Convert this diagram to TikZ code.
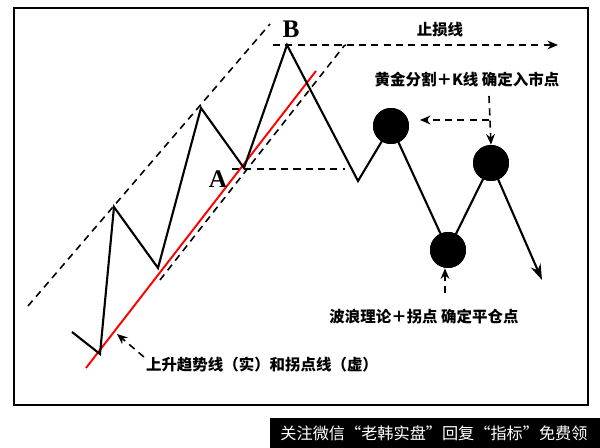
\documentclass[tikz,border=0pt]{standalone}
\usepackage{fontspec}
\setmainfont{Liberation Serif}
\newfontfamily\cjk{Noto Sans CJK SC}
\usetikzlibrary{arrows.meta, positioning, calc}

\begin{document}
\begin{tikzpicture}[
		x=0.02cm, y=-0.02cm,
		% Style for the price path
		wave/.style={line width=1.2pt, line join=miter},
		% Filled turning points
		ball/.style={circle, fill=black, inner sep=0pt, minimum size=0.72cm},
		% Dashed guide lines and arrows
		guide/.style={dashed, line width=0.9pt, dash pattern=on 4pt off 3pt},
		guide arrow/.style={guide, -{Stealth[length=6pt, width=5pt]}},
		trend/.style={red, line width=1.1pt},
		% Text
		point label/.style={font=\bfseries\Large},
		note label/.style={font=\cjk\bfseries\fontsize{8.8pt}{10pt}\selectfont, inner sep=1pt},
		footer label/.style={font=\cjk\fontsize{9.2pt}{11pt}\selectfont, text=white}
		]
		
		\useasboundingbox (0,0) rectangle (600,448);
		
		% frame
		\draw[line width=0.9pt] (14,8) rectangle (588,405);
		
		% channel lines
		\draw[guide] (28,306) -- (270,24);
		\draw[trend] (86,368) -- (316,71);
		\draw[guide] (160,280) -- (344,46) -- (346,45);
		
		% price path
		\coordinate (p0) at (72,332);
		\coordinate (p1) at (100,354);
		\coordinate (p2) at (114,207);
		\coordinate (p3) at (158,268);
		\coordinate (p4) at (201,108);
		\coordinate (pA) at (244,168);
		\coordinate (pB) at (287,45);
		\coordinate (p7) at (358,181);
		\coordinate (pEnd) at (542,280);
		\node[ball] (c1) at (391,126) {};
		\node[ball] (c2) at (448,250) {};
		\node[ball] (c3) at (491,163) {};
		
		\draw[wave] (p0) -- (p1) -- (p2) -- (p3) -- (p4) -- (pA) -- (pB) -- (p7) -- (c1.center) -- (c2.center) -- (c3.center);
		\draw[wave, -{Stealth[length=9pt, width=6pt]}] (c3.center) -- (pEnd);
		\node[ball] at (c1) {};
		\node[ball] at (c2) {};
		\node[ball] at (c3) {};
		
		\node[point label] (labA) at (218,179) {A};
		\node[point label] (labB) at (291,29) {B};
		
		% stop loss
		\coordinate (stopStart) at (273,45);
		\coordinate (stopEnd) at (558,45);
		\draw[guide arrow] (stopStart) -- (stopEnd);
		\node[note label] (lblStop) at (440,30) {止损线};
		\coordinate (aEnd) at (345,169);
		\draw[guide] (pA) ++(-12,1) -- (aEnd);
		
		% entry point
		\node[note label] (lblEntry) at (467,80) {黄金分割＋K线\ 确定入市点};
		\coordinate (entryTop) at (489,96);
		\coordinate (entryMid) at (489,120);
		\draw[guide arrow] (entryTop) -- (c3.north);
		\draw[guide arrow, shorten >=6pt] (entryMid) -- (c1.east |- entryMid);
		
		% exit point
		\node[note label] (lblExit) at (424,317) {波浪理论＋拐点\ 确定平仓点};
		\coordinate (exitLow) at (445,293);
		\draw[guide arrow] (exitLow) -- (c2.south -| exitLow);
		
		% trend line note
		\node[note label] (lblTrend) at (262,365) {上升趋势线（实）和拐点线（虚）};
		\coordinate (trendTip) at (117,334);
		\draw[guide arrow] (lblTrend.west) ++(0,-8) -- (trendTip);
		
		% footer
		\fill[black] (270,418) rectangle (600,448);
		\node[footer label] (footer) at (434,433) {关注微信“老韩实盘”回复“指标”免费领};
	\end{tikzpicture}
\end{document}
